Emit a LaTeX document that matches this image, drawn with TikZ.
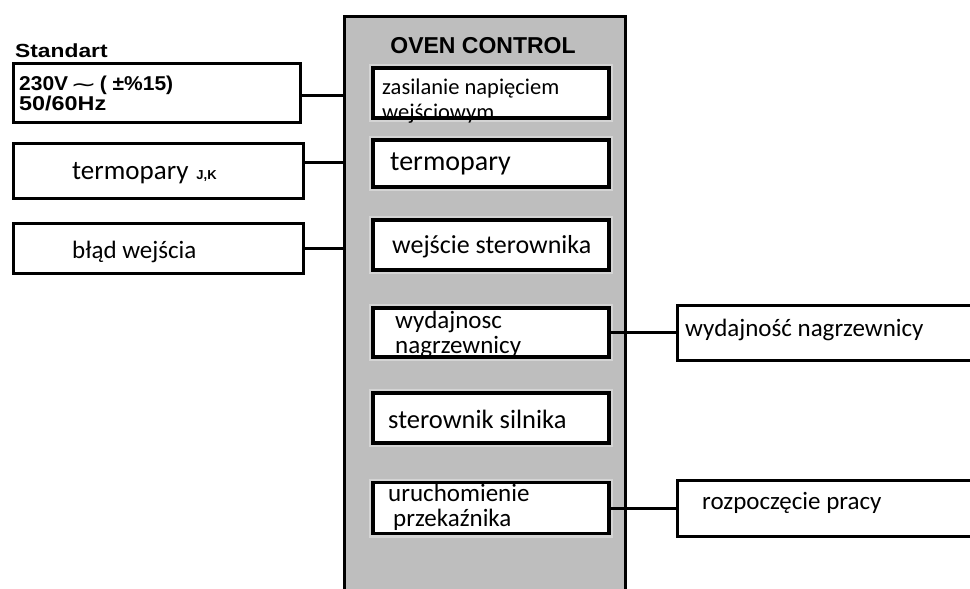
\documentclass[tikz,border=0pt]{standalone}
\usepackage{graphicx}
\usepackage{fontspec}
\setmainfont{Carlito}
\newfontfamily\hdfont{Liberation Sans}
\newfontfamily\symfont{DejaVu Sans}
\definecolor{ovengray}{RGB}{190,190,190}
\definecolor{halogray}{RGB}{212,212,212}
\newcommand{\fsz}[1]{\fontsize{#1}{#1}\selectfont}
\begin{document}
\begin{tikzpicture}[x=1pt,y=-1pt,
  ibox/.style={draw, line width=3.5pt, fill=white, minimum width=236pt, inner sep=0pt,
    preaction={draw=halogray, line width=8pt}},
  obox/.style={draw, line width=3pt, fill=white, inner sep=0pt},
  lbl/.style={anchor=west, inner sep=0pt, align=left, font=\fontsize{26}{26}\selectfont},
  hd/.style={inner sep=0pt, font=\hdfont\bfseries\fontsize{20}{20}\selectfont},
  wire/.style={line width=3pt}]
\useasboundingbox (0,0) rectangle (970,589);
\fill[white] (0,0) rectangle (970,589);
% oven panel
\node[fill=ovengray, minimum width=280pt, minimum height=600pt, inner sep=0pt] (oven) at (485,317) {};
\draw[wire] (oven.south west) -- (oven.north west) -- (oven.north east) -- (oven.south east);
\node[hd, font=\hdfont\bfseries\fsz{23}] (title) at (483,46) {OVEN CONTROL};
% inner boxes
\node[ibox, minimum height=50pt] (b1) at (491,93) {};
\node[ibox, minimum height=47pt] (b2) at (491,163.5) {};
\node[ibox, minimum height=50pt] (b3) at (491,245) {};
\node[ibox, minimum height=49pt] (b4) at (491,332.5) {};
\node[ibox, minimum height=50pt] (b5) at (491,418) {};
\node[ibox, minimum height=51pt] (b6) at (491,508) {};
\node[lbl, font=\fontsize{22.5}{25}\selectfont] (t1) at (382,101) {zasilanie napięciem\\wejściowym};
\node[lbl, font=\fsz{28}] (t2) at (390,164) {termopary};
\node[lbl, font=\fsz{26}] (t3) at (392,247) {wejście sterownika};
\node[lbl, font=\fsz{25}] (t4) at (395,334) {wydajnosc\\nagrzewnicy};
\node[lbl, font=\fsz{26.5}] (t5) at (388,419) {sterownik silnika};
\node[lbl, font=\fsz{25}] (t6) at (388,507) {uruchomienie\\\hspace*{5pt}przekaźnika};
% left boxes
\node[hd, anchor=west, font=\hdfont\bfseries\fsz{19}] (std) at (15,51) {\scalebox{1.2}[1]{Standart}};
\node[obox, minimum width=287pt, minimum height=59pt] (l1) at (156.5,92.5) {};
\node[obox, minimum width=290pt, minimum height=55pt] (l2) at (158,170.5) {};
\node[obox, minimum width=290pt, minimum height=50pt] (l3) at (158,248) {};
\node[lbl, font=\hdfont\bfseries\fontsize{20}{20}\selectfont] (v1) at (19,93)
  {\scalebox{1.05}[1]{230V\hspace{2pt}\raisebox{-1pt}{\symfont\mdseries\scalebox{1.5}[1]{∼}}\hspace{3pt}( ±\%15)}\\\scalebox{1.17}[1]{50/60Hz}};
\node[lbl, font=\fsz{27}] (v2) at (72,173) {termopary\hspace{8pt}{\hdfont\bfseries\fsz{13}J,K}};
\node[lbl, font=\fsz{25}] (v3) at (72,252) {błąd wejścia};
% right boxes
\node[obox, minimum width=320pt, minimum height=55pt] (r1) at (837,332.5) {};
\node[obox, minimum width=320pt, minimum height=56pt] (r2) at (837,508) {};
\node[lbl, font=\fsz{25}] (w1) at (685,330) {wydajność nagrzewnicy};
\node[lbl, font=\fsz{25}] (w2) at (702,503) {rozpoczęcie pracy};
% connectors
\draw[wire] ([yshift=-2.5pt]l1.east) -- ([yshift=-2.5pt]l1.east -| oven.west);
\draw[wire] ([yshift=8.5pt]l2.east) -- ([yshift=8.5pt]l2.east -| oven.west);
\draw[wire] (l3.east) -- (l3.east -| oven.west);
\draw[wire] (b4.east) -- (r1.west);
\draw[wire] (b6.east) -- (r2.west);
\end{tikzpicture}
\end{document}
